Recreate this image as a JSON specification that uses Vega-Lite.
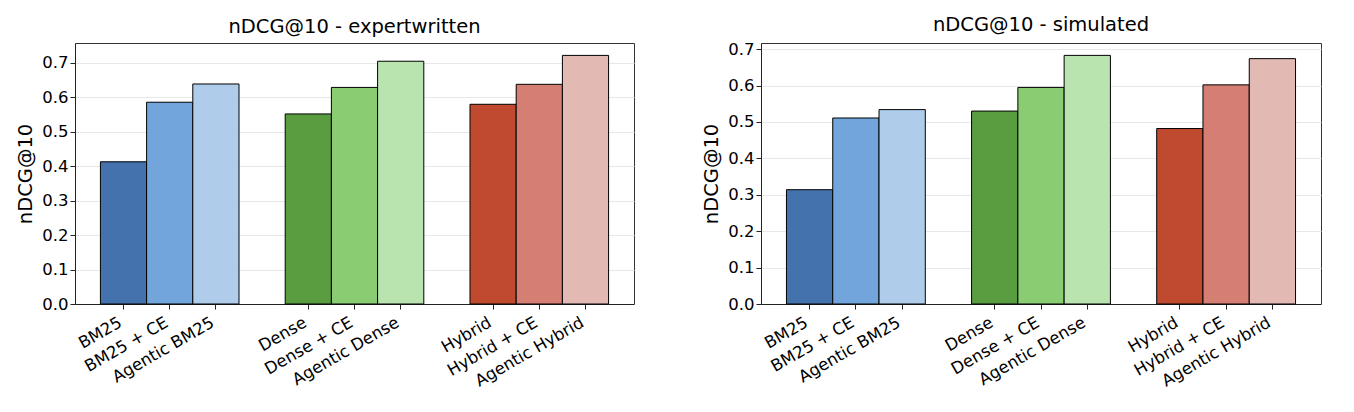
{
  "$schema": "https://vega.github.io/schema/vega-lite/v6.json",
  "background": "white",
  "padding": {"left": 15, "top": 14, "right": 5, "bottom": 5},
  "spacing": 66,
  "config": {
    "font": "DejaVu Sans",
    "view": {"stroke": "#333333", "strokeWidth": 1},
    "axis": {
      "labelFont": "DejaVu Sans",
      "labelFontSize": 16.5,
      "labelColor": "black",
      "titleFont": "DejaVu Sans",
      "titleFontSize": 19.5,
      "titleFontWeight": "normal",
      "titleColor": "black",
      "domainColor": "#222222",
      "tickColor": "#222222",
      "tickSize": 5,
      "labelPadding": 2
    },
    "title": {"font": "DejaVu Sans", "fontSize": 19.5, "fontWeight": "normal", "color": "black", "offset": 6}
  },
  "data": {
    "values": [
      {"panel": "expertwritten", "method": "BM25", "ndcg": 0.413},
      {"panel": "expertwritten", "method": "BM25 + CE", "ndcg": 0.586},
      {"panel": "expertwritten", "method": "Agentic BM25", "ndcg": 0.639},
      {"panel": "expertwritten", "method": "Dense", "ndcg": 0.552},
      {"panel": "expertwritten", "method": "Dense + CE", "ndcg": 0.629},
      {"panel": "expertwritten", "method": "Agentic Dense", "ndcg": 0.705},
      {"panel": "expertwritten", "method": "Hybrid", "ndcg": 0.580},
      {"panel": "expertwritten", "method": "Hybrid + CE", "ndcg": 0.638},
      {"panel": "expertwritten", "method": "Agentic Hybrid", "ndcg": 0.722},
      {"panel": "simulated", "method": "BM25", "ndcg": 0.314},
      {"panel": "simulated", "method": "BM25 + CE", "ndcg": 0.511},
      {"panel": "simulated", "method": "Agentic BM25", "ndcg": 0.534},
      {"panel": "simulated", "method": "Dense", "ndcg": 0.530},
      {"panel": "simulated", "method": "Dense + CE", "ndcg": 0.595},
      {"panel": "simulated", "method": "Agentic Dense", "ndcg": 0.683},
      {"panel": "simulated", "method": "Hybrid", "ndcg": 0.482},
      {"panel": "simulated", "method": "Hybrid + CE", "ndcg": 0.602},
      {"panel": "simulated", "method": "Agentic Hybrid", "ndcg": 0.674}
    ]
  },
  "hconcat": [
    {
      "title": "nDCG@10 - expertwritten",
      "width": 559,
      "height": 261,
      "transform": [{"filter": "datum.panel === 'expertwritten'"}],
      "mark": {"type": "bar", "stroke": "black", "strokeWidth": 1},
      "encoding": {
        "x": {
          "field": "method",
          "type": "nominal",
          "scale": {
            "domain": ["BM25", "BM25 + CE", "Agentic BM25", " ", "Dense", "Dense + CE", "Agentic Dense", "  ", "Hybrid", "Hybrid + CE", "Agentic Hybrid"],
            "paddingInner": 0,
            "paddingOuter": 0.55
          },
          "axis": {
            "title": null,
            "labelAngle": -30,
            "labelAlign": "right",
            "labelBaseline": "top",
            "labelPadding": 5,
            "labelOffset": -7,
            "tickOpacity": {"condition": {"test": "datum.value === ' ' || datum.value === '  '", "value": 0}, "value": 1},
            "grid": false
          }
        },
        "y": {
          "field": "ndcg",
          "type": "quantitative",
          "scale": {"domain": [0, 0.758], "nice": false},
          "axis": {
            "title": "nDCG@10",
            "values": [0, 0.1, 0.2, 0.3, 0.4, 0.5, 0.6, 0.7],
            "format": ".1f",
            "grid": true,
            "gridColor": "#e8e8e8",
            "titlePadding": 6
          }
        },
        "color": {
          "field": "method",
          "type": "nominal",
          "scale": {
            "domain": ["BM25", "BM25 + CE", "Agentic BM25", "Dense", "Dense + CE", "Agentic Dense", "Hybrid", "Hybrid + CE", "Agentic Hybrid"],
            "range": ["#4372ad", "#72a5db", "#afcdeb", "#5a9c40", "#89cc72", "#b9e4af", "#c04a2f", "#d47e74", "#e3b9b4"]
          },
          "legend": null
        }
      }
    },
    {
      "title": "nDCG@10 - simulated",
      "width": 560,
      "height": 261,
      "transform": [{"filter": "datum.panel === 'simulated'"}],
      "mark": {"type": "bar", "stroke": "black", "strokeWidth": 1},
      "encoding": {
        "x": {
          "field": "method",
          "type": "nominal",
          "scale": {
            "domain": ["BM25", "BM25 + CE", "Agentic BM25", " ", "Dense", "Dense + CE", "Agentic Dense", "  ", "Hybrid", "Hybrid + CE", "Agentic Hybrid"],
            "paddingInner": 0,
            "paddingOuter": 0.55
          },
          "axis": {
            "title": null,
            "labelAngle": -30,
            "labelAlign": "right",
            "labelBaseline": "top",
            "labelPadding": 5,
            "labelOffset": -7,
            "tickOpacity": {"condition": {"test": "datum.value === ' ' || datum.value === '  '", "value": 0}, "value": 1},
            "grid": false
          }
        },
        "y": {
          "field": "ndcg",
          "type": "quantitative",
          "scale": {"domain": [0, 0.717], "nice": false},
          "axis": {
            "title": "nDCG@10",
            "values": [0, 0.1, 0.2, 0.3, 0.4, 0.5, 0.6, 0.7],
            "format": ".1f",
            "grid": true,
            "gridColor": "#e8e8e8",
            "titlePadding": 6
          }
        },
        "color": {
          "field": "method",
          "type": "nominal",
          "scale": {
            "domain": ["BM25", "BM25 + CE", "Agentic BM25", "Dense", "Dense + CE", "Agentic Dense", "Hybrid", "Hybrid + CE", "Agentic Hybrid"],
            "range": ["#4372ad", "#72a5db", "#afcdeb", "#5a9c40", "#89cc72", "#b9e4af", "#c04a2f", "#d47e74", "#e3b9b4"]
          },
          "legend": null
        }
      }
    }
  ]
}
